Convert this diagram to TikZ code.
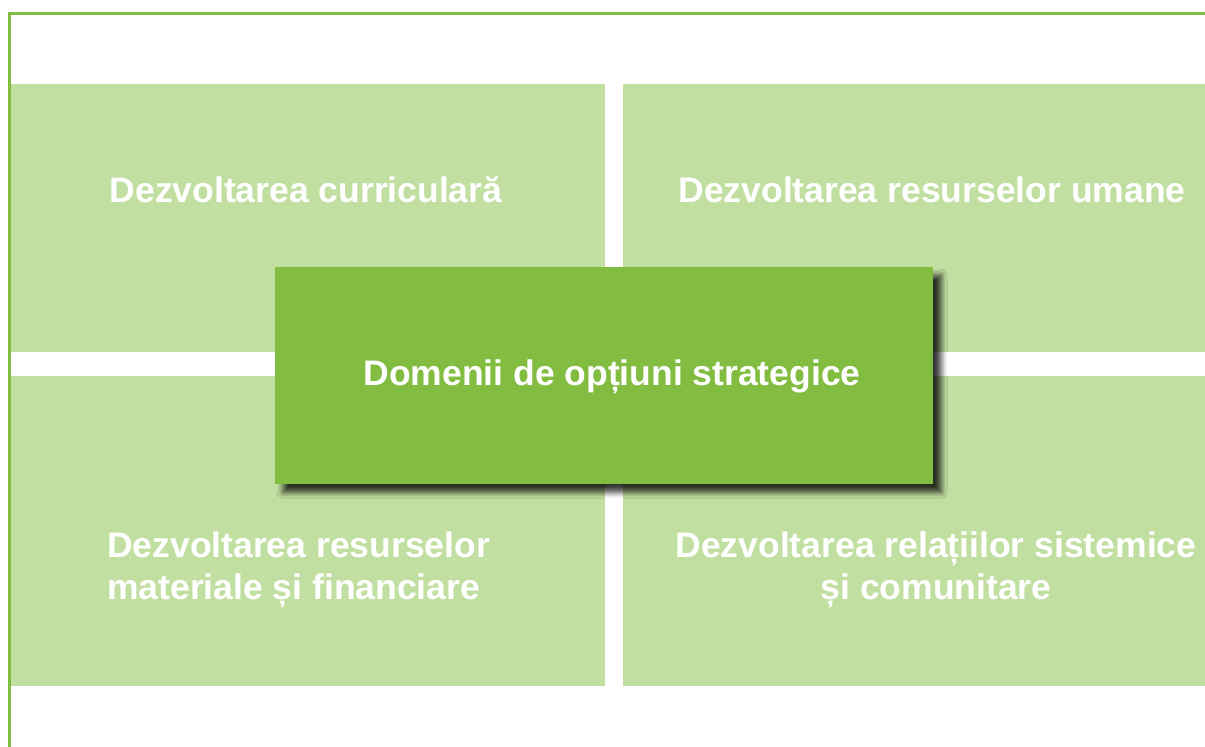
\documentclass[tikz,border=0pt]{standalone}
\usepackage{fontspec}
\setmainfont{Liberation Sans}
\usetikzlibrary{shadows.blur}
\definecolor{domgreen}{HTML}{82BD41}
\definecolor{domlight}{HTML}{C2DFA2}
\tikzset{
  quad/.style={fill=domlight, inner sep=0pt, anchor=north west,
               minimum height=268pt},
  quadtext/.style={text=white, inner sep=0pt,
                   font=\bfseries\fontsize{35.5}{42}\selectfont},
  centerbox/.style={fill=domgreen, inner sep=0pt, anchor=north west,
                    minimum width=658pt, minimum height=217pt,
                    blur shadow={shadow xshift=8pt, shadow yshift=-8pt,
                                 shadow blur radius=6pt, shadow opacity=80}},
  frameline/.style={draw=domgreen, line width=3pt},
}

\begin{document}
\begin{tikzpicture}[x=1pt, y=-1pt]
    \useasboundingbox (0,0) rectangle (1205,747);
    \clip (0,0) rectangle (1205,747);
    \path[frameline] (9.5,13.5) rectangle (1260,800);
    % four domains
    \node[quad, minimum width=594pt] (q1) at (11,84) {};
    \node[quad, minimum width=620pt] (q2) at (623,84) {};
    \node[quad, minimum width=594pt, minimum height=310pt] (q3) at (11,376) {};
    \node[quad, minimum width=620pt, minimum height=310pt] (q4) at (623,376) {};
    \node[quadtext] (t1) at (306,190) {Dezvoltarea curriculară};
    \node[quadtext] (t2) at (932,190) {Dezvoltarea resurselor umane};
    \node[quadtext, anchor=west, align=left] (t3) at (107,570)
      {Dezvoltarea resurselor\\materiale și financiare};
    \node[quadtext, align=center] (t4) at (936,570)
      {Dezvoltarea relațiilor sistemice\\și comunitare};
    % centre
    \node[centerbox] (dom) at (275,267) {};
    \node[quadtext] (tdom) at (612,377) {Domenii de opțiuni strategice};
  \end{tikzpicture}
\end{document}
